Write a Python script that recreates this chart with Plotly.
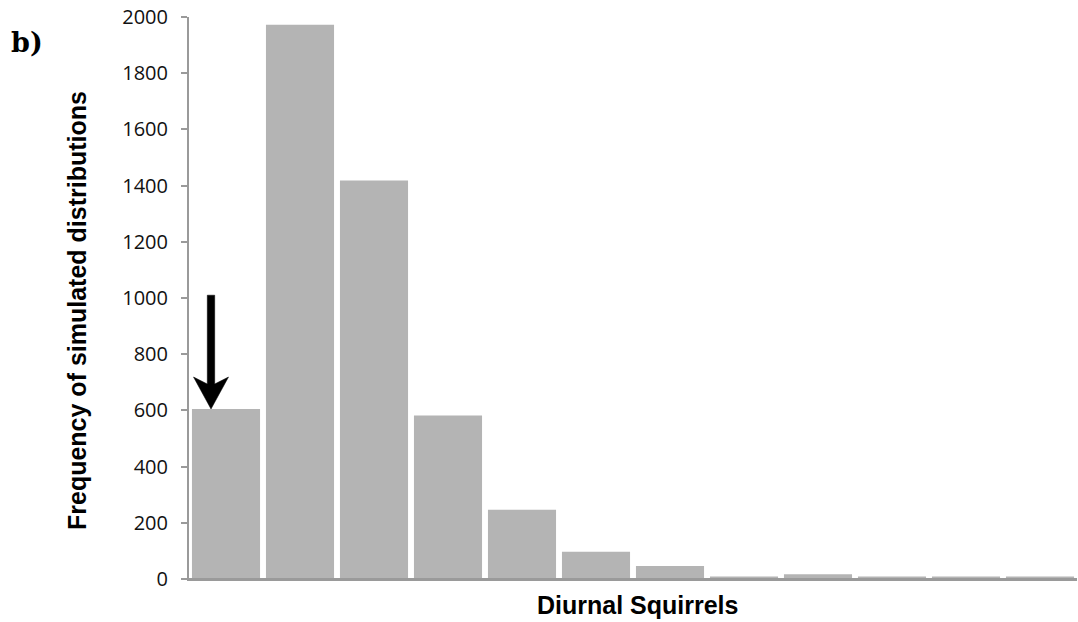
import plotly.graph_objects as go

# Data
bins = list(range(12))
freq = [605, 1972, 1418, 582, 246, 97, 46, 9, 17, 9, 9, 9]
y_ticks = [0, 200, 400, 600, 800, 1000, 1200, 1400, 1600, 1800, 2000]
arrow_top = 1010  # value where the arrow starts

W, H = 1078, 622
ML, MR, MT, MB = 189, 1, 17, 43
plot_w = W - ML - MR
plot_h = H - MT - MB
y_max = 2000
px_per_unit = plot_h / y_max
px_per_cat = plot_w / len(bins)

fig = go.Figure()
fig.add_trace(go.Bar(
    x=bins, y=freq,
    marker=dict(color="#b4b4b4", line=dict(width=0)),
    hoverinfo="skip",
))

# Arrow (pointing down to the first bar), built in data coordinates
xc = bins[0] - 15 / px_per_cat
sw = 3.7 / px_per_cat
hw = 17.5 / px_per_cat
tip = freq[0]
barb = tip + 32 / px_per_unit
junc = tip + 25 / px_per_unit
path = (f"M {xc - sw},{arrow_top} L {xc + sw},{arrow_top} L {xc + sw},{junc} "
        f"L {xc + hw},{barb} L {xc},{tip} L {xc - hw},{barb} L {xc - sw},{junc} Z")
fig.add_shape(type="path", path=path, xref="x", yref="y",
              fillcolor="black", line=dict(color="black", width=0.5))

# x-axis line extends slightly left of the y axis
fig.add_shape(type="line", xref="paper", yref="y",
              x0=-6 / plot_w, x1=1, y0=0, y1=0,
              line=dict(color="#9a9a9a", width=2))

fig.add_annotation(
    text="Frequency of simulated distributions", textangle=-90,
    xref="paper", yref="paper", x=(77 - ML) / plot_w, y=(H - MB - 311) / plot_h,
    xanchor="center", yanchor="middle", showarrow=False,
    font=dict(family="Liberation Sans, Arial", size=25, color="black", weight="bold"),
)
fig.add_annotation(
    text="Diurnal Squirrels",
    xref="paper", yref="paper", x=(637 - ML) / plot_w, y=(H - MB - 605) / plot_h,
    xanchor="center", yanchor="middle", showarrow=False,
    font=dict(family="Liberation Sans, Arial", size=25, color="black", weight="bold"),
)
fig.add_annotation(
    text="b)",
    xref="paper", yref="paper", x=(9 - ML) / plot_w, y=(H - MB - 42) / plot_h,
    xanchor="left", yanchor="middle", showarrow=False,
    font=dict(family="DejaVu Serif", size=27, color="black", weight="bold"),
)

fig.update_layout(
    width=W, height=H,
    margin=dict(l=ML, r=MR, t=MT, b=MB, pad=0),
    paper_bgcolor="white", plot_bgcolor="white",
    showlegend=False, bargap=0.08,
    xaxis=dict(range=[-0.5, len(bins) - 0.5], showticklabels=False, ticks="",
               showgrid=False, zeroline=False, showline=True,
               linecolor="#9a9a9a", linewidth=2, fixedrange=True),
    yaxis=dict(range=[0, y_max], tickvals=y_ticks, ticks="outside", ticklen=6,
               tickcolor="#9a9a9a", tickwidth=2, showgrid=False, zeroline=False,
               showline=True, linecolor="#9a9a9a", linewidth=2,
               ticklabelstandoff=9,
               tickfont=dict(family="Open Sans", size=20, color="#111111"),
               fixedrange=True),
)

fig.write_html("out.html")
